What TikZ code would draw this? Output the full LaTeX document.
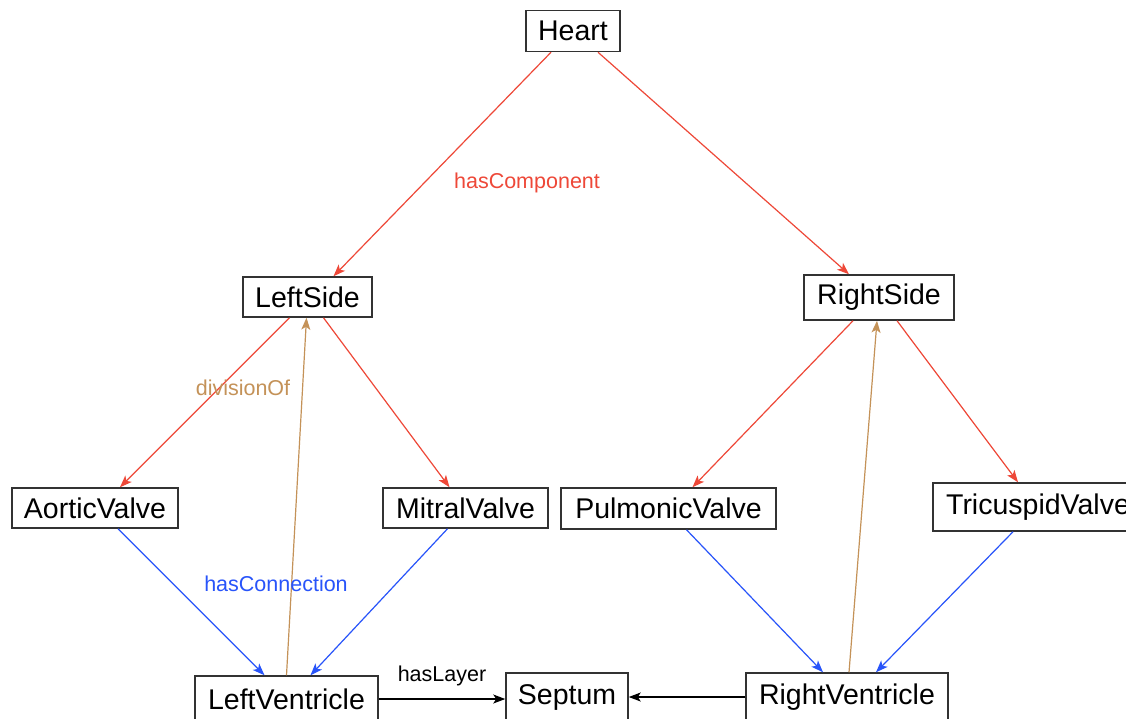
\documentclass[tikz,border=0pt]{standalone}
\usepackage{fontspec}
\setmainfont{Liberation Sans}
\usetikzlibrary{arrows.meta}
\definecolor{cred}{RGB}{238,72,56}
\definecolor{cblue}{RGB}{40,84,250}
\definecolor{ctan}{RGB}{196,146,88}
\definecolor{cbox}{RGB}{50,50,50}
\begin{document}
\begin{tikzpicture}[x=1pt,y=-1pt,
  box/.style={draw=cbox,line width=1.5pt,fill=white,inner sep=0pt,
    font=\fontsize{28.5}{32}\selectfont,text=black},
  lbl/.style={font=\fontsize{21.5}{24}\selectfont,inner sep=0pt},
  arr/.style={line width=1.2pt,-{Stealth[length=12pt,width=9pt,inset=3pt]}},
  redarr/.style={arr,draw=cred},
  bluearr/.style={arr,draw=cblue},
  tanarr/.style={arr,draw=ctan},
  blkarr/.style={arr,draw=black}]
\useasboundingbox (0,0) rectangle (1126,718);
\clip (0,0) rectangle (1126,718);
\fill[white] (0,0) rectangle (1126,718);
% nodes
\node[box,minimum width=94pt,minimum height=41pt] (heart) at (573,31) {Heart};
\node[box,minimum width=129pt,minimum height=40pt] (left) at (307.5,297) {LeftSide};
\node[box,minimum width=150pt,minimum height=45pt] (right) at (879,297.5) {RightSide};
\node[box,minimum width=166pt,minimum height=40pt] (aortic) at (95,508) {AorticValve};
\node[box,minimum width=165pt,minimum height=40pt] (mitral) at (465.5,508) {MitralValve};
\node[box,minimum width=215pt,minimum height=41pt] (pulm) at (668.5,508.5) {PulmonicValve};
\node[box,minimum width=210pt,minimum height=48pt] (tric) at (1038,507) {TricuspidValve};
\node[box,minimum width=183pt,minimum height=46pt] (lv) at (286.5,699) {LeftVentricle};
\node[box,minimum width=122pt,minimum height=48pt] (septum) at (567,697) {Septum};
\node[box,minimum width=202pt,minimum height=48pt] (rv) at (847,697) {RightVentricle};
% red edges
\draw[redarr] ([xshift=-22pt]heart.south) -- ([xshift=26pt]left.north);
\draw[redarr] ([xshift=25pt]heart.south) -- ([xshift=-30pt]right.north);
\draw[redarr] ([xshift=-18pt]left.south) -- ([xshift=25pt]aortic.north);
\draw[redarr] ([xshift=16pt]left.south) -- ([xshift=-16pt]mitral.north);
\draw[redarr] ([xshift=-26pt]right.south) -- ([xshift=24pt]pulm.north);
\draw[redarr] ([xshift=18pt]right.south) -- ([xshift=-20pt]tric.north);
% tan edges
\draw[tanarr] ([xshift=0pt]lv.north) -- ([xshift=-1pt]left.south);
\draw[tanarr] ([xshift=2pt]rv.north) -- ([xshift=-2pt]right.south);
% blue edges
\draw[bluearr] ([xshift=23pt]aortic.south) -- ([xshift=-22pt]lv.north);
\draw[bluearr] ([xshift=-18pt]mitral.south) -- ([xshift=24pt]lv.north);
\draw[bluearr] ([xshift=18pt]pulm.south) -- ([xshift=-24pt]rv.north);
\draw[bluearr] ([xshift=-25pt]tric.south) -- ([xshift=29pt]rv.north);
% black edges
\draw[blkarr] (lv.east) -- (septum.west |- lv.east);
\draw[blkarr] (rv.west) -- (septum.east |- rv.west);
% labels
\node[lbl,text=cred] (lhc) at (527,183) {hasComponent};
\node[lbl,text=ctan] (ldiv) at (243,388) {divisionOf};
\node[lbl,text=cblue] (lcon) at (276,584) {hasConnection};
\node[lbl,text=black] (llay) at (442,676) {hasLayer};
\end{tikzpicture}
\end{document}
